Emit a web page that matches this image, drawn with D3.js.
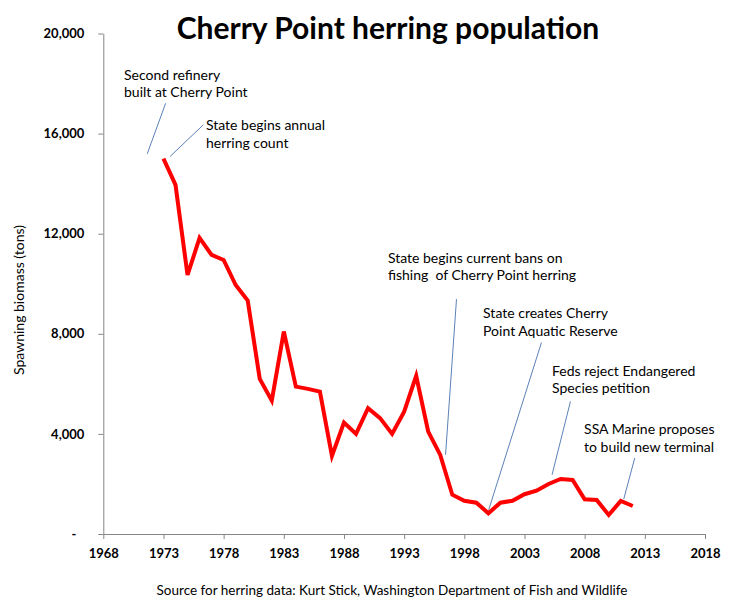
<!DOCTYPE html>
<html lang="en">
<head>
    <meta charset="UTF-8">
    <title>Cherry Point herring population</title>
    <style>
        body { margin: 0; background: #fff; }
        svg { display: block; }
        text { font-family: Lato, "Open Sans", sans-serif; fill: #000; }
        .axis path, .axis line { stroke: #868686; }
        .axis text { font-weight: bold; font-size: 13px; }
    </style>
</head>
<body>
<svg></svg>
<script src="https://d3js.org/d3.v7.min.js"></script>
<script>
    // herring spawning biomass, tons
    var years = [1973, 1974, 1975, 1976, 1977, 1978, 1979, 1980, 1981, 1982,
        1983, 1984, 1985, 1986, 1987, 1988, 1989, 1990, 1991, 1992,
        1993, 1994, 1995, 1996, 1997, 1998, 1999, 2000, 2001, 2002,
        2003, 2004, 2005, 2006, 2007, 2008, 2009, 2010, 2011, 2012];
    var biomass = [15000, 13950, 10350, 11830, 11150, 10950, 9950, 9330, 6200, 5330,
        8090, 5890, 5800, 5690, 3120, 4450, 4000, 5030, 4630, 4000,
        4890, 6320, 4090, 3160, 1570, 1330, 1250, 830, 1250, 1330,
        1590, 1730, 2000, 2200, 2160, 1390, 1360, 760, 1320, 1120];

    var xTicks = [1968, 1973, 1978, 1983, 1988, 1993, 1998, 2003, 2008, 2013, 2018];
    var yTicks = [0, 4000, 8000, 12000, 16000, 20000];

    var titleText = "Cherry Point herring population";
    var yLabel = "Spawning biomass (tons)";
    var sourceText = "Source for herring data: Kurt Stick, Washington Department of Fish and Wildlife";

    // event notes: text lines, where the text sits and where the leader line runs (year, tons)
    var notes = [
        {lines: ["Second refinery", "built at Cherry Point"], at: [1969.72, 18160], from: [1973.18, 17214], to: [1971.65, 15189]},
        {lines: ["State begins annual", "herring count"], at: [1976.53, 16140], from: [1976.31, 16350], to: [1973.54, 15081]},
        {lines: ["State begins current bans on", "fishing  of Cherry Point herring"], at: [1991.65, 10844], from: [1997.35, 9386], to: [1996.44, 3167]},
        {lines: ["State creates Cherry", "Point Aquatic Reserve"], at: [1999.56, 8619], from: [2004.41, 7653], to: [2000.03, 971]},
        {lines: ["Feds reject Endangered", "Species petition"], at: [2005.29, 6315], from: [2006.82, 5296], to: [2005.29, 2368]},
        {lines: ["SSA Marine proposes", "to build new terminal"], at: [2007.95, 3986], from: [2012.16, 3035], to: [2011.25, 1398]}
    ];

    var width = 729;
    var height = 606;
    var margin = {top: 33.5, right: 24, bottom: 72, left: 103.3};

    var xScale = d3.scaleLinear().domain([1968, 2018]).range([margin.left, width - margin.right]);
    var yScale = d3.scaleLinear().domain([0, 20000]).range([height - margin.bottom, margin.top]);

    var svg = d3.select("svg")
        .attr("width", width)
        .attr("height", height);

    // axes
    var xAxis = d3.axisBottom(xScale)
        .tickValues(xTicks)
        .tickFormat(d3.format("d"))
        .tickSize(5)
        .tickSizeOuter(0)
        .tickPadding(10);

    var yAxis = d3.axisLeft(yScale)
        .tickValues(yTicks)
        .tickFormat(function (d) {
            return d === 0 ? "-" : d3.format(",")(d);
        })
        .tickSize(5)
        .tickSizeOuter(0)
        .tickPadding(14);

    svg.append("g")
        .attr("class", "axis")
        .attr("transform", "translate(0," + yScale(0) + ")")
        .call(xAxis);

    var gy = svg.append("g")
        .attr("class", "axis")
        .attr("transform", "translate(" + xScale(1968) + ",0)")
        .call(yAxis);
    gy.selectAll(".tick text")
        .filter(function (d) { return d === 0; })
        .attr("dx", "-8");

    // leader lines
    svg.selectAll(".leader")
        .data(notes)
        .enter().append("line")
        .attr("class", "leader")
        .attr("x1", function (d) { return xScale(d.from[0]); })
        .attr("y1", function (d) { return yScale(d.from[1]); })
        .attr("x2", function (d) { return xScale(d.to[0]); })
        .attr("y2", function (d) { return yScale(d.to[1]); })
        .style("stroke", "#5b82b8")
        .style("stroke-width", 1);

    // the series
    var line = d3.line()
        .x(function (d, i) { return xScale(years[i]); })
        .y(function (d) { return yScale(d); });

    svg.append("path")
        .datum(biomass)
        .attr("d", line)
        .style("fill", "none")
        .style("stroke", "#ff0000")
        .style("stroke-width", 4)
        .style("stroke-linejoin", "miter");

    // note text
    var noteText = svg.selectAll(".note")
        .data(notes)
        .enter().append("text")
        .attr("class", "note")
        .attr("x", function (d) { return xScale(d.at[0]); })
        .attr("y", function (d) { return yScale(d.at[1]); })
        .style("font-size", "14px");
    noteText.selectAll("tspan")
        .data(function (d) { return d.lines.map(function (l) { return {text: l, x: xScale(d.at[0])}; }); })
        .enter().append("tspan")
        .attr("x", function (d) { return d.x; })
        .attr("dy", function (d, i) { return i === 0 ? 0 : 17.5; })
        .style("white-space", "pre")
        .text(function (d) { return d.text; });

    // titles
    svg.append("text")
        .attr("x", 388)
        .attr("y", 39)
        .attr("text-anchor", "middle")
        .style("font-size", "30px")
        .style("font-weight", "bold")
        .text(titleText);

    svg.append("text")
        .attr("transform", "translate(24,300) rotate(-90)")
        .attr("text-anchor", "middle")
        .style("font-size", "14px")
        .text(yLabel);

    svg.append("text")
        .attr("x", 392)
        .attr("y", 595)
        .attr("text-anchor", "middle")
        .style("font-size", "13.5px")
        .text(sourceText);
</script>
</body>
</html>
